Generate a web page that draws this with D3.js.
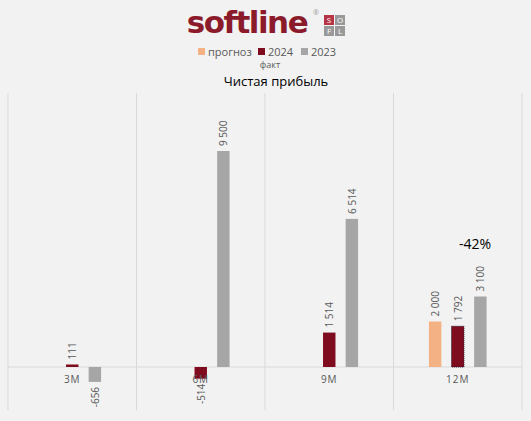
<!DOCTYPE html>
<html><head><meta charset="utf-8">
<script src="https://cdn.jsdelivr.net/npm/d3@7"></script>
<style>body{margin:0;background:#f2f2f2;font-family:"Open Sans",sans-serif}</style>
</head><body>
<svg id="svg" width="531" height="421"></svg>
<script>
const categories = ["3M", "6M", "9M", "12M"];
const seriesNames = ["прогноз", "2024", "2023"];
const forecast = [null, null, null, 2000];
const fact2024 = [111, -514, 1514, 1792];
const fact2023 = [-656, 9500, 6514, 3100];
const colors = ["#f4b183", "#7f0c1e", "#a6a6a6"];

const svg = d3.select("#svg");
const plotL = 8, plotR = 522, plotT = 93, plotB = 410;

const x = d3.scaleBand().domain(categories).range([plotL, plotR]);
const xs = d3.scaleBand().domain(seriesNames).range([-39, 39]).padding(0.45);
const y = d3.scaleLinear().domain([0, 9500]).range([367, 151]);

// gridlines
svg.selectAll(".grid").data(d3.range(categories.length + 1)).enter().append("line")
  .attr("x1", (d) => plotL + d * x.bandwidth()).attr("x2", (d) => plotL + d * x.bandwidth())
  .attr("y1", plotT).attr("y2", plotB).attr("stroke", "#d9d9d9");
svg.append("line").attr("x1", plotL).attr("x2", plotR).attr("y1", y(0)).attr("y2", y(0)).attr("stroke", "#d9d9d9");

// logo
svg.append("text").attr("x", 247).attr("y", 33).attr("text-anchor", "middle")
  .attr("font-family", "DejaVu Sans").attr("font-weight", "bold").attr("font-size", 31)
  .attr("fill", "#8b1a2b").attr("letter-spacing", -1.5).text("softline");
svg.append("text").attr("x", 313).attr("y", 15).attr("font-size", 7).attr("fill", "#999").text("®");
const sofl = [["S", 0, 0, "#b53545"], ["O", 1, 0, "#999"], ["F", 0, 1, "#999"], ["L", 1, 1, "#999"]];
sofl.forEach(([t, c, r, f]) => {
  svg.append("rect").attr("x", 324 + c * 11).attr("y", 15 + r * 11).attr("width", 10).attr("height", 10).attr("fill", f);
  svg.append("text").attr("x", 329 + c * 11).attr("y", 23 + r * 11).attr("text-anchor", "middle")
    .attr("font-size", 8).attr("fill", "#fff").text(t);
});

// legend
const lx = [198, 258, 301];
seriesNames.forEach((n, i) => {
  svg.append("rect").attr("x", lx[i]).attr("y", 48).attr("width", 7).attr("height", 7).attr("fill", colors[i]);
  svg.append("text").attr("x", lx[i] + 10).attr("y", 56).attr("font-size", 11).attr("fill", "#595959").text(n);
});
svg.append("text").attr("x", 270).attr("y", 68).attr("text-anchor", "middle").attr("font-size", 9).attr("fill", "#595959").text("факт");
svg.append("text").attr("x", 276).attr("y", 86).attr("text-anchor", "middle").attr("font-size", 13).attr("fill", "#000").text("Чистая прибыль");

// bars
const series = [forecast, fact2024, fact2023];
const fmt = (v) => (v < 0 ? "-" : "") + d3.format(",")(Math.abs(v)).replace(/,/g, " ");
series.forEach((vals, si) => {
  vals.forEach((v, ci) => {
    if (v === null) return;
    const bx = x(categories[ci]) + x.bandwidth() / 2 + xs(seriesNames[si]);
    const bar = svg.append("rect").attr("x", bx).attr("width", xs.bandwidth())
      .attr("y", Math.min(y(v), y(0))).attr("height", Math.abs(y(v) - y(0))).attr("fill", colors[si]);
    if (si === 1 && ci === 3) bar.attr("stroke", "#2a1030").attr("stroke-dasharray", "1,1");
    const cx = bx + xs.bandwidth() / 2;
    const ly = v >= 0 ? y(v) - 5 : y(v) + 5;
    svg.append("text").attr("transform", `translate(${cx + 4},${ly}) rotate(-90)`)
      .attr("text-anchor", v >= 0 ? "start" : "end").attr("font-size", 10).attr("fill", "#595959").text(fmt(v));
  });
});

// category labels
svg.selectAll(".cat").data(categories).enter().append("text")
  .attr("x", (d) => x(d) + x.bandwidth() / 2).attr("y", 383).attr("text-anchor", "middle")
  .attr("font-size", 10).attr("fill", "#595959").attr("letter-spacing", 1).text((d) => d);

svg.append("text").attr("x", 475).attr("y", 249).attr("text-anchor", "middle").attr("font-size", 14).attr("fill", "#000").text("-42%");
</script>
</body></html>
